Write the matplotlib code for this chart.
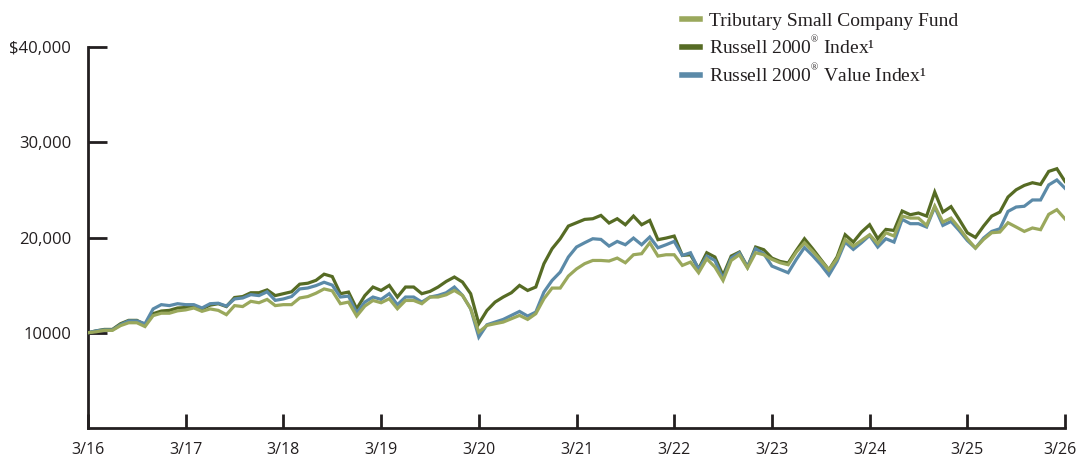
import numpy as np
import matplotlib
matplotlib.use("Agg")
from matplotlib import pyplot as plt
from matplotlib import transforms

# growth of $10,000, monthly values 3/16 .. 3/26
tributary = [10000, 10100, 10250, 10250, 10750, 11050, 11050, 10650, 11800, 12050,
             12050, 12300, 12400, 12600, 12250, 12500, 12350, 11900, 12850, 12750,
             13300, 13150, 13500, 12850, 12950, 12950, 13650, 13800, 14150, 14600,
             14400, 13050, 13220, 11750, 12800, 13390, 13150, 13570, 12520, 13390,
             13390, 13050, 13750, 13750, 13990, 14440, 13920, 12520, 10070, 10770,
             10950, 11120, 11470, 11820, 11400, 12000, 13570, 14690, 14690, 15950,
             16700, 17250, 17590, 17590, 17530, 17840, 17350, 18190, 18300, 19450,
             18050, 18190, 18190, 17070, 17420, 16300, 17770, 16900, 15490, 17590,
             18190, 16800, 18400, 18190, 17700, 17350, 17140, 18470, 19450, 18560,
             17590, 16600, 17770, 19800, 19100, 19690, 20290, 19350, 20500, 20150,
             22250, 22040, 22040, 21270, 23300, 21620, 22040, 21000, 19870, 18890,
             19800, 20500, 20570, 21550, 21100, 20640, 21000, 20820, 22430, 22920,
             21950]
russell2000 = [10000, 10200, 10350, 10350, 10950, 11300, 11300, 10850, 12000, 12280,
               12350, 12600, 12650, 12750, 12500, 12900, 13050, 12750, 13700, 13800,
               14200, 14200, 14500, 13900, 14100, 14300, 15100, 15200, 15500, 16150,
               15900, 14100, 14270, 12520, 13900, 14800, 14440, 14970, 13750, 14800,
               14800, 14100, 14340, 14800, 15390, 15850, 15320, 14100, 10950, 12340,
               13220, 13750, 14200, 14970, 14440, 14800, 17250, 18820, 19870, 21200,
               21550, 21900, 21970, 22320, 21520, 21970, 21340, 22250, 21340, 21790,
               19770, 19940, 20150, 18120, 18190, 16720, 18400, 17950, 16020, 18050,
               18470, 16900, 19000, 18720, 17840, 17490, 17320, 18640, 19870, 18820,
               17700, 16600, 17950, 20290, 19520, 20570, 21340, 19870, 20850, 20740,
               22780, 22390, 22570, 22250, 24770, 22670, 23240, 21900, 20500, 20010,
               21200, 22250, 22670, 24250, 25010, 25470, 25750, 25570, 26940, 27220,
               25890]
russell2000_value = [10000, 10200, 10300, 10300, 10850, 11250, 11250, 10950, 12500, 12950,
                     12850, 13050, 12950, 12950, 12600, 13050, 13100, 12800, 13550, 13650,
                     14000, 13900, 14300, 13400, 13550, 13800, 14600, 14700, 14950, 15300,
                     15000, 13750, 13850, 12100, 13220, 13750, 13500, 14100, 12940, 13750,
                     13750, 13220, 13750, 13920, 14200, 14800, 13920, 12520, 9550, 10840,
                     11120, 11400, 11820, 12240, 11750, 12170, 14270, 15490, 16370, 17950,
                     19000, 19450, 19870, 19800, 19100, 19590, 19240, 19940, 19240, 20050,
                     18920, 19240, 19590, 18120, 18400, 16650, 18050, 17590, 15670, 17840,
                     18400, 16900, 18820, 18300, 17000, 16650, 16300, 17700, 18950, 18100,
                     17150, 16050, 17490, 19520, 18750, 19450, 20220, 19000, 19870, 19520,
                     21900, 21450, 21450, 21100, 23200, 21270, 21690, 20740, 19690, 18890,
                     19940, 20640, 20920, 22740, 23200, 23280, 23940, 23940, 25520, 26040,
                     25170]

year_labels = ["3/16", "3/17", "3/18", "3/19", "3/20", "3/21",
               "3/22", "3/23", "3/24", "3/25", "3/26"]
y_ticks = [10000, 20000, 30000, 40000]
y_labels = ["10000", "20,000", "30,000", "$40,000"]

names = ["Tributary Small Company Fund",
         "Russell 2000$^{{}^{\\circledR}}$ Index\u00b9",
         "Russell 2000$^{{}^{\\circledR}}$ Value Index\u00b9"]
colors = ["#9aa85c", "#566b24", "#5b8aa8"]

plt.rcParams['mathtext.fontset'] = 'custom'
plt.rcParams['mathtext.rm'] = 'Liberation Serif'
plt.rcParams['mathtext.it'] = 'Liberation Serif'

ink = "#231f20"
months = np.arange(len(tributary))

fig = plt.figure(figsize=(10.78, 4.66), dpi=100)
ax = fig.add_axes([88 / 1078, 1 - 428 / 466, (1065 - 88) / 1078, (428 - 47) / 466])

l2, = ax.plot(months, russell2000, color=colors[1], lw=2.3, solid_joinstyle='miter', zorder=2)
l3, = ax.plot(months, russell2000_value, color=colors[2], lw=2.3, solid_joinstyle='miter', zorder=3)
l1, = ax.plot(months, tributary, color=colors[0], lw=2.3, solid_joinstyle='miter', zorder=4)

ax.set_xlim(0, 120)
ax.set_ylim(0, 40000)
ax.set_xticks(np.arange(0, 121, 12))
ax.set_xticklabels(year_labels)
ax.set_yticks(y_ticks)
ax.set_yticklabels(y_labels)

for s in ["top", "right"]:
    ax.spines[s].set_visible(False)
for s in ["left", "bottom"]:
    ax.spines[s].set_color(ink)
    ax.spines[s].set_linewidth(2)
    ax.spines[s].set_capstyle('projecting')

ax.tick_params(axis='x', direction='in', length=10, width=2, color=ink, pad=10,
               labelsize=11.5, labelcolor=ink)
ax.tick_params(axis='y', direction='in', length=14, width=2, color=ink, pad=12,
               labelsize=12, labelcolor=ink)
for lab in ax.get_xticklabels() + ax.get_yticklabels():
    lab.set_fontfamily('Open Sans')
# last year label sits a little left so it stays inside the picture
last = ax.get_xticklabels()[-1]
last.set_transform(last.get_transform() +
                   transforms.ScaledTranslation(-5 / 100, 0, fig.dpi_scale_trans))

leg = ax.legend([l1, l2, l3], names, loc='upper left',
                bbox_to_anchor=(682 / 1078, 1 - 12 / 466), bbox_transform=fig.transFigure,
                frameon=False, borderpad=0, borderaxespad=0, handlelength=0.95,
                handletextpad=0.45, labelspacing=0.22,
                prop={'family': 'Liberation Serif', 'size': 14})
for h in leg.get_lines():
    h.set_linewidth(4)
for t in leg.get_texts():
    t.set_color(ink)

fig.savefig("out.png", dpi=100)
